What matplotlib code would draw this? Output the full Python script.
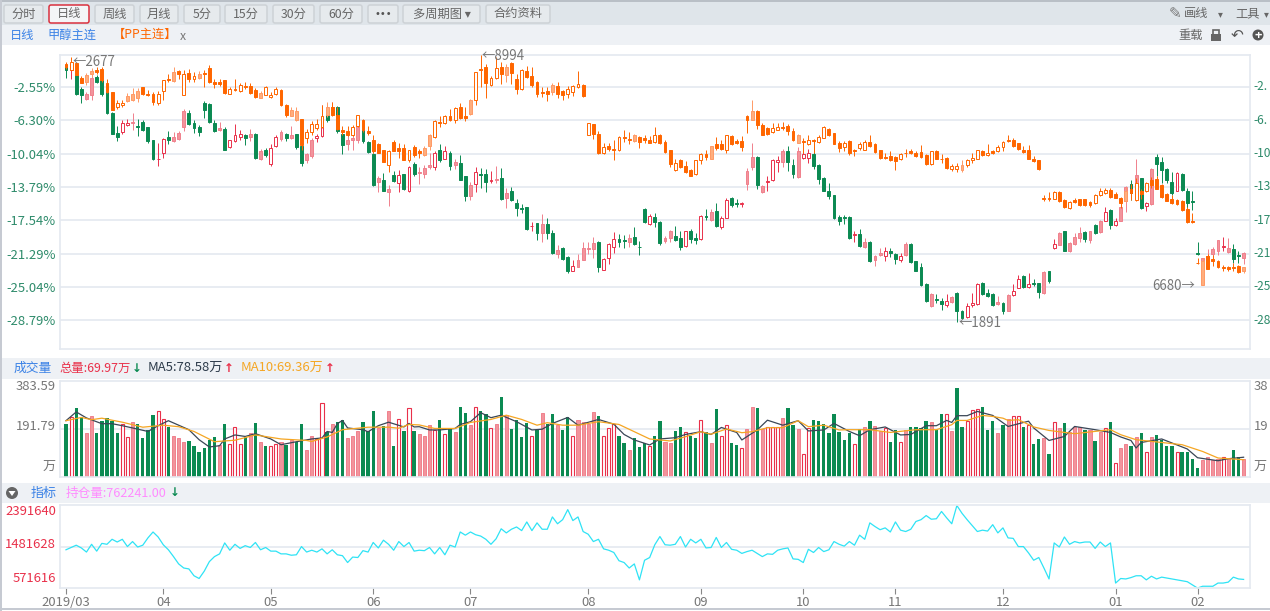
import numpy as np
import matplotlib
matplotlib.use("Agg")
import matplotlib.pyplot as plt
from matplotlib.patches import Rectangle, FancyBboxPatch, Circle, Polygon

plt.rcParams['font.family'] = ['Noto Sans CJK SC', 'DejaVu Sans']
plt.rcParams['axes.unicode_minus'] = False

W, H = 1270, 611

# x axis, trading day index of each month start
month_idx = [0, 19, 40, 60, 79, 102, 124, 144, 162, 183, 205, 221]
month_labels = ['2019/03', '04', '05', '06', '07', '08', '09', '10', '11', '12', '01', '02']

# percent ticks of the price panel
pct_ticks = [-2.55, -6.30, -10.04, -13.79, -17.54, -21.29, -25.04, -28.79]
pct_right = ['-2.', '-6.', '-10', '-13', '-17', '-21', '-25', '-28']

# g = down, r = up, p = up, pale
vol_kind = ("grggppgggg" "grrpggggrr" "gpppgggggg" "pgrrrgpgpg" "rrpgpggppr"
            "rgpggpppgg" "gpgpgrgrgp" "pprgrgpggp" "rggrpgpggg" "grgpggpggr"
            "ppppgrrrgg" "pgggrggppg" "grggrgpgrr" "ggrppgprrr" "pggprrgggg"
            "ggggrgpgpp" "rggrpggggp" "ggrpggrrrg" "ggpgprrgrg" "gpgrpgpppg"
            "pgprgrppgp" "grpggggrgg" "ggpppprpggp")

# volume, in 10k lots
volume = [213, 239, 277, 239, 176, 245, 176, 225, 235, 222,
          176, 213, 160, 221, 213, 156, 186, 249, 263, 231,
          200, 162, 154, 141, 142, 122, 98, 114, 146, 160,
          129, 213, 133, 200, 133, 160, 176, 217, 138, 125,
          125, 133, 138, 129, 146, 140, 213, 106, 162, 153,
          295, 178, 213, 218, 229, 154, 165, 184, 218, 182,
          263, 196, 205, 263, 125, 231, 184, 277, 182, 170,
          165, 207, 188, 227, 170, 194, 181, 278, 255, 207,
          278, 263, 250, 194, 210, 320, 247, 191, 227, 158,
          214, 165, 188, 254, 210, 250, 207, 188, 238, 165,
          227, 221, 210, 258, 242, 165, 194, 211, 165, 137,
          106, 157, 121, 134, 125, 165, 223, 141, 137, 185,
          198, 178, 165, 157, 227, 178, 137, 271, 165, 207,
          137, 128, 114, 190, 278, 275, 191, 198, 201, 201,
          234, 275, 207, 190, 90, 194, 227, 223, 210, 174,
          251, 181, 149, 174, 132, 190, 200, 225, 205, 182,
          196, 138, 189, 138, 189, 200, 200, 196, 225, 219,
          186, 253, 253, 184, 355, 200, 225, 269, 271, 281,
          189, 225, 176, 207, 231, 243, 243, 200, 207, 130,
          150, 154, 93, 219, 196, 217, 178, 200, 200, 188,
          188, 142, 178, 196, 219, 56, 116, 133, 125, 160,
          176, 101, 160, 168, 149, 125, 122, 101, 101, 101,
          73, 37, 69, 80, 69, 73, 80, 76, 106, 80, 70]

# moving averages at their turning points
ma5_x = [0, 2, 4, 7, 9, 11, 13, 16, 18, 20, 24, 26, 28, 30, 31, 33, 35, 37, 40, 42, 45, 48, 50, 51, 52, 53, 54, 55, 58, 59, 61, 63, 66, 67, 68,
         69, 71, 73, 76, 77, 79, 81, 83, 85, 88, 91, 93, 95, 98, 100, 104, 107, 109, 111, 114, 116, 119, 121, 124, 126, 128, 131, 132, 135, 137, 140, 143, 145, 148, 150,
         153, 155, 157, 160, 163, 165, 168, 170, 172, 173, 174, 176, 178, 181, 184, 188, 189, 192, 195, 197, 201, 204, 206, 208, 209, 210, 214, 216, 219, 221, 225, 227, 230]
ma5 = [225, 260, 236, 213, 213, 205, 196, 182, 205, 225, 189, 149, 120, 125, 152, 168, 162, 173, 152, 129, 141, 152, 156, 182, 178, 213, 226, 196, 189, 181, 205, 219, 200, 214, 200,
       201, 188, 188, 194, 210, 221, 257, 237, 247, 221, 188, 191, 214, 238, 207, 230, 211, 170, 148, 128, 152, 157, 170, 181, 170, 198, 178, 148, 188, 227, 207, 225, 184, 188, 214,
       182, 165, 189, 200, 168, 170, 205, 205, 226, 218, 245, 245, 262, 246, 202, 223, 196, 146, 162, 202, 189, 178, 160, 146, 116, 138, 152, 136, 112, 77, 65, 73, 79]
ma10_x = [0, 3, 5, 7, 11, 15, 19, 22, 25, 29, 33, 37, 42, 47, 48, 51, 54, 59, 63, 65, 67,
          69, 72, 76, 79, 83, 86, 89, 92, 94, 97, 100, 104, 108, 111, 114, 118, 121, 124, 126, 129, 132, 134, 137, 140, 143, 145, 148, 151,
          153, 157, 161, 166, 170, 173, 174, 176, 179, 181, 183, 184, 186, 189, 192, 197, 200, 204, 206, 209, 214, 218, 222, 225, 230]
ma10 = [225, 238, 229, 235, 219, 199, 207, 201, 182, 141, 147, 168, 152, 146, 142, 160, 189, 199, 199, 195, 210,
        208, 194, 194, 218, 230, 247, 230, 207, 217, 207, 207, 221, 210, 181, 152, 144, 161, 181, 171, 192, 177, 181, 197, 197, 225, 201, 207, 188,
        189, 189, 178, 189, 189, 209, 226, 226, 246, 242, 235, 226, 229, 200, 186, 173, 180, 189, 169, 149, 138, 129, 102, 76, 69]

# open interest, in 10k lots
open_interest = [141, 146, 151, 145, 136, 153, 138, 155, 153, 164, 158, 164, 148, 159, 147, 151, 167, 180, 169, 152,
                 141, 126, 110, 101, 99, 84, 78, 94, 115, 126, 132, 156, 140, 153, 144, 150, 146, 157, 141, 146,
                 138, 138, 132, 132, 129, 130, 148, 136, 140, 136, 143, 132, 141, 130, 128, 113, 125, 124, 139, 136,
                 157, 145, 162, 153, 140, 159, 148, 157, 138, 140,
                 139, 146, 132, 146, 130, 151, 147, 180, 173, 180, 174, 171, 164, 153, 165, 187, 178, 186, 191, 183,
                 202, 183, 200, 186, 186, 213, 198, 207, 229, 205, 213, 181, 175, 159, 164, 143, 140, 135, 117, 113,
                 101, 110, 75, 118, 124, 152, 170, 152, 151, 153, 170, 147, 164, 156, 164, 145, 146, 168, 146, 157,
                 142, 140, 133, 137, 140, 133, 126, 132, 131, 140, 143, 145, 121, 120, 113, 142, 135, 146, 137, 141,
                 159, 153, 149, 159, 151, 173,
                 164, 200, 192, 185, 189, 180, 202, 184, 181, 186, 203, 207, 216, 208, 209, 225, 211, 198, 238, 221,
                 207, 194, 181, 184, 182, 196, 178, 189, 167, 166, 148, 148, 134, 118, 124, 101, 77, 156, 147, 169,
                 153, 159, 156, 158, 158, 144, 158, 148, 156, 68, 78, 77, 80, 84, 84, 75, 83, 77, 81, 79,
                 77, 75, 73, 71, 64, 57, 61, 61, 61, 68, 68, 70, 81, 77, 76]

# body top, body bottom, high, low in percent
methanol = [
    (-0.1, -0.6, 0.1, -1.5), (0.1, -0.6, 0.5, -1.6), (-1.2, -3.3, -1.0, -3.5), (-2.8, -3.4, -2.6, -4.3), (-3.3, -3.9, -3.1, -4.0),
    (-1.5, -3.5, -1.1, -4.0), (-1.4, -2.0, -1.2, -2.1), (-1.8, -3.3, -1.7, -3.6), (-3.1, -5.5, -2.9, -5.6), (-5.5, -7.8, -5.4, -7.8),
    (-7.7, -8.2, -6.9, -8.6), (-6.6, -7.6, -6.3, -7.8), (-6.6, -6.8, -6.2, -6.9), (-6.5, -6.6, -5.5, -7.4), (-6.9, -7.0, -6.2, -8.1),
    (-6.5, -7.4, -6.3, -7.5), (-7.1, -8.6, -7.0, -8.9), (-8.5, -10.6, -8.5, -10.8), (-10.6, -10.7, -8.9, -11.4), (-8.4, -10.0, -8.3, -10.5),
    (-8.2, -8.5, -7.5, -9.0), (-8.2, -8.6, -7.6, -8.7), (-7.7, -8.4, -7.5, -8.5), (-5.3, -7.1, -5.0, -7.5), (-5.5, -6.7, -5.1, -6.8),
    (-6.6, -7.2, -6.3, -7.7), (-7.1, -7.6, -6.8, -8.1), (-4.3, -5.1, -4.1, -6.0), (-4.5, -6.5, -4.3, -6.6), (-6.6, -7.5, -6.3, -7.6),
    (-7.2, -7.4, -6.5, -7.5), (-7.3, -9.6, -7.1, -9.6), (-8.5, -9.3, -8.5, -9.4), (-7.9, -8.6, -6.7, -8.7), (-7.8, -8.2, -7.4, -8.5),
    (-7.9, -8.3, -7.8, -9.1), (-7.8, -8.2, -7.3, -8.6), (-7.8, -10.5, -7.7, -10.6), (-9.7, -10.7, -9.5, -10.8), (-9.6, -10.2, -9.4, -10.4),
    (-9.4, -11.2, -9.0, -11.4), (-8.2, -9.2, -8.0, -9.3), (-7.6, -8.4, -7.4, -8.6), (-7.8, -8.3, -7.7, -8.6), (-8.0, -8.3, -6.9, -8.4),
    (-7.8, -9.3, -7.8, -9.5), (-9.2, -11.1, -9.1, -11.4), (-10.1, -10.8, -10.0, -11.1), (-8.5, -10.3, -8.3, -10.5), (-8.1, -8.3, -7.8, -8.7),
    (-7.0, -8.1, -4.6, -8.2), (-5.6, -6.3, -4.5, -6.5), (-4.8, -5.5, -4.2, -5.7), (-4.8, -7.5, -4.7, -7.7), (-7.8, -9.1, -7.6, -10.1),
    (-8.5, -9.0, -8.0, -9.6), (-8.3, -8.5, -7.2, -9.6), (-6.9, -8.5, -6.1, -8.8), (-7.4, -8.6, -7.3, -8.8), (-8.7, -9.9, -8.6, -10.0),
    (-10.1, -13.6, -10.0, -13.7), (-12.8, -13.2, -12.6, -14.4), (-13.0, -14.2, -12.2, -14.3), (-14.0, -14.4, -13.6, -15.9), (-12.5, -13.1, -12.0, -13.2),
    (-12.5, -13.3, -11.9, -14.4), (-12.3, -14.0, -12.3, -14.1), (-11.6, -14.3, -11.4, -14.4), (-11.2, -12.3, -11.0, -12.6), (-12.1, -12.2, -11.5, -13.5),
    (-11.7, -12.3, -11.3, -12.8), (-11.3, -11.5, -10.0, -11.8), (-10.0, -11.6, -9.8, -11.9), (-9.6, -10.8, -9.0, -11.0), (-9.8, -10.6, -9.2, -10.7),
    (-10.0, -11.4, -9.8, -11.9), (-11.0, -11.3, -10.6, -11.8), (-11.1, -13.0, -10.2, -13.0), (-12.6, -14.8, -12.6, -15.4), (-13.6, -14.8, -13.2, -15.3),
    (-12.1, -13.5, -11.6, -14.4), (-12.3, -12.5, -11.7, -13.9), (-12.3, -13.2, -11.8, -14.4), (-13.0, -13.1, -12.0, -13.3), (-12.9, -13.0, -11.4, -13.3),
    (-12.8, -15.2, -11.7, -15.3), (-14.5, -15.0, -13.9, -16.2), (-14.2, -15.3, -13.8, -15.4), (-15.6, -16.2, -15.1, -17.1), (-16.2, -16.3, -15.7, -16.7),
    (-16.1, -18.5, -16.0, -18.6), (-18.2, -18.2, -17.7, -18.7), (-17.9, -19.0, -17.8, -19.8), (-18.0, -19.0, -16.8, -20.0), (-18.0, -19.0, -17.3, -19.6),
    (-19.0, -21.2, -18.6, -21.3), (-20.9, -21.3, -20.3, -21.8), (-20.7, -21.9, -20.6, -22.0), (-21.7, -23.3, -21.6, -23.5), (-22.7, -23.3, -22.0, -23.3),
    (-22.0, -22.8, -21.3, -22.8), (-20.7, -22.0, -20.0, -22.0), (-20.7, -20.8, -20.0, -21.3), (-20.1, -20.8, -19.4, -21.8), (-20.0, -22.8, -19.9, -23.4),
    (-21.9, -23.1, -21.8, -23.1), (-20.2, -21.8, -20.1, -22.5), (-19.7, -20.5, -18.9, -21.2), (-19.6, -20.0, -19.1, -20.5), (-19.8, -19.9, -19.2, -20.7),
    (-19.5, -20.0, -19.1, -20.5), (-19.4, -20.2, -18.3, -20.3), (-20.5, -20.6, -19.9, -21.5), (-16.3, -17.7, -16.2, -17.8), (-17.1, -18.0, -16.8, -18.1),
    (-17.2, -17.7, -16.7, -18.3), (-17.7, -20.1, -17.6, -20.3), (-19.5, -19.9, -19.3, -20.1), (-18.8, -19.5, -18.6, -20.0), (-19.3, -19.8, -18.2, -19.9),
    (-19.5, -20.6, -18.8, -20.9), (-18.8, -20.4, -18.7, -20.5), (-18.8, -19.6, -18.5, -20.1), (-19.5, -19.8, -19.0, -20.2), (-17.1, -19.7, -17.0, -19.8),
    (-17.1, -17.2, -16.3, -17.5), (-16.6, -17.5, -16.3, -17.6), (-16.5, -18.2, -15.6, -18.3), (-17.3, -18.3, -17.1, -18.5), (-15.3, -17.3, -15.0, -17.3),
    (-15.0, -15.8, -14.9, -16.0), (-15.6, -15.7, -15.1, -16.1), (-15.6, -15.7, -15.5, -16.1), (-12.0, -13.5, -11.7, -14.1), (-10.4, -11.5, -8.8, -11.9),
    (-10.4, -13.6, -10.3, -14.0), (-13.7, -14.4, -13.6, -14.5), (-13.1, -13.2, -12.6, -14.2), (-10.8, -13.0, -10.7, -13.1), (-10.8, -11.0, -10.3, -12.1),
    (-9.8, -11.0, -9.5, -11.6), (-9.8, -11.0, -9.2, -12.0), (-11.3, -12.3, -10.6, -12.8), (-9.8, -12.7, -9.3, -12.8), (-10.1, -10.5, -9.6, -10.6),
    (-10.0, -10.5, -9.5, -11.1), (-10.1, -11.4, -8.5, -11.8), (-11.3, -12.9, -11.2, -13.5), (-12.8, -14.2, -12.7, -14.2), (-14.3, -14.8, -13.3, -15.2),
    (-14.7, -17.3, -14.7, -17.4), (-17.2, -17.6, -17.0, -18.1), (-17.2, -17.3, -16.9, -18.0), (-17.2, -19.5, -17.1, -19.7), (-19.2, -19.2, -18.7, -20.0),
    (-19.1, -20.4, -18.5, -20.6), (-20.0, -20.6, -19.5, -20.7), (-20.0, -22.1, -19.9, -22.2), (-21.6, -22.0, -21.4, -22.7), (-21.2, -21.5, -20.7, -21.6),
    (-21.0, -21.6, -20.5, -22.1), (-21.0, -21.2, -20.7, -21.7), (-21.3, -21.9, -21.2, -22.5), (-21.6, -22.0, -21.2, -22.2), (-20.2, -21.5, -20.0, -21.6),
    (-20.2, -22.2, -20.1, -22.3), (-22.1, -23.2, -22.1, -23.3), (-22.8, -24.8, -22.4, -24.9), (-24.7, -26.6, -24.6, -26.7), (-25.8, -27.2, -25.7, -27.3),
    (-26.4, -26.5, -25.8, -26.8), (-26.6, -27.0, -26.3, -27.6), (-26.6, -27.1, -25.8, -27.3), (-26.2, -26.7, -26.1, -26.9), (-25.7, -27.8, -25.6, -29.0),
    (-27.7, -28.5, -27.6, -28.6), (-27.2, -28.4, -26.9, -28.5), (-26.8, -27.1, -25.7, -27.3), (-24.7, -27.0, -24.6, -27.1), (-24.6, -25.8, -24.5, -25.9),
    (-25.7, -26.1, -25.3, -26.2), (-25.8, -27.1, -25.7, -27.2), (-26.7, -27.0, -26.1, -27.1), (-26.8, -27.8, -26.7, -28.1), (-25.9, -27.7, -25.8, -27.8),
    (-25.5, -25.9, -24.7, -26.1), (-24.2, -25.2, -23.7, -25.2), (-23.8, -25.1, -23.7, -25.2), (-24.7, -25.1, -23.5, -25.2), (-24.6, -24.7, -24.1, -24.9),
    (-24.6, -25.6, -24.6, -26.3), (-23.4, -25.7, -23.3, -25.8), (-23.3, -24.4, -23.2, -24.6), (-20.2, -20.7, -19.6, -20.8), (-19.0, -20.3, -18.9, -20.3),
    (-18.8, -21.0, -18.7, -21.0), (-20.1, -21.0, -20.0, -21.1), (-19.4, -20.2, -19.0, -20.3), (-19.0, -19.5, -18.3, -20.0), (-18.9, -19.6, -18.8, -20.0),
    (-18.8, -19.8, -18.7, -20.1), (-18.1, -19.0, -18.0, -19.1), (-17.6, -18.9, -17.5, -19.0), (-16.6, -17.6, -16.1, -17.6), (-16.4, -18.1, -16.3, -18.5),
    (-17.6, -18.1, -17.3, -18.2), (-16.1, -17.6, -15.6, -17.6), (-13.8, -15.4, -13.7, -16.6), (-13.5, -14.5, -13.0, -15.3), (-12.4, -14.3, -10.7, -14.4),
    (-12.8, -16.2, -12.8, -16.3), (-15.6, -15.9, -15.5, -16.5), (-11.8, -15.7, -11.7, -15.8), (-10.4, -11.2, -10.1, -12.6), (-11.0, -11.9, -10.4, -13.4),
    (-11.8, -13.0, -11.7, -13.4), (-13.2, -14.5, -12.1, -14.7), (-12.2, -14.3, -12.1, -14.3), (-12.3, -14.1, -12.2, -14.2), (-14.3, -15.6, -13.9, -16.8),
    (-15.4, -15.5, -14.3, -16.4), (-21.2, -21.3, -20.0, -21.4), (-21.8, -22.2, -21.8, -22.3), (-21.6, -22.9, -20.8, -23.0), (-20.8, -21.3, -20.6, -21.8),
    (-19.8, -21.0, -19.8, -21.4), (-20.4, -20.5, -19.4, -21.0), (-20.7, -21.1, -19.5, -21.2), (-20.8, -21.9, -20.2, -22.4), (-21.5, -21.6, -21.0, -22.3),
    (-21.2, -21.8, -21.1, -22.5)]

pp = [
    (0.0, -0.3, 0.3, -0.5), (0.3, -0.6, 0.8, -0.6), (0.1, -1.2, 0.2, -1.2), (-1.5, -2.1, -1.3, -2.1), (-1.2, -2.0, -1.0, -2.3),
    (-0.7, -1.1, -0.4, -1.4), (-0.6, -0.9, -0.3, -1.1), (-0.5, -1.8, -0.3, -2.0), (-2.1, -3.1, -1.7, -3.2), (-3.1, -5.1, -3.1, -5.1),
    (-4.4, -4.8, -4.0, -5.0), (-4.3, -4.6, -4.0, -4.8), (-3.6, -4.1, -3.2, -4.2), (-3.3, -4.0, -2.7, -4.1), (-3.0, -3.8, -2.7, -4.2),
    (-2.6, -3.3, -2.5, -3.5), (-3.3, -3.4, -2.9, -3.6), (-3.3, -4.2, -3.1, -4.6), (-3.3, -4.3, -3.0, -4.6), (-1.8, -3.0, -1.8, -4.0),
    (-1.7, -1.8, -1.1, -2.0), (-0.9, -1.9, -0.3, -2.0), (-0.8, -1.1, -0.6, -1.6), (-1.1, -3.4, -0.6, -3.5), (-1.0, -1.7, -0.5, -2.0),
    (-1.3, -1.7, -0.9, -2.0), (-1.1, -1.5, -0.8, -1.7), (-1.0, -1.1, -0.6, -2.5), (-0.4, -2.0, -0.1, -2.1), (-2.0, -2.2, -1.6, -2.7),
    (-2.0, -2.2, -1.7, -2.4), (-1.8, -3.2, -1.8, -3.3), (-2.8, -3.3, -2.6, -3.3), (-2.8, -2.9, -1.6, -3.0), (-2.3, -3.0, -2.1, -3.1),
    (-2.4, -2.6, -2.0, -2.8), (-2.4, -3.2, -2.1, -3.3), (-2.9, -3.7, -2.7, -3.8), (-3.2, -3.8, -3.0, -3.8), (-2.5, -3.5, -2.4, -3.5),
    (-3.4, -3.7, -3.1, -3.8), (-2.8, -3.3, -2.5, -3.5), (-2.9, -4.6, -2.8, -4.7), (-4.6, -5.7, -4.5, -5.9), (-5.1, -5.8, -4.8, -5.8),
    (-5.2, -6.3, -4.8, -6.4), (-6.2, -9.1, -6.1, -9.6), (-7.6, -8.3, -7.3, -8.9), (-6.7, -7.6, -6.4, -8.0), (-6.7, -7.2, -6.2, -7.4),
    (-5.8, -7.1, -4.6, -7.2), (-4.8, -5.7, -4.2, -5.9), (-4.8, -5.7, -4.2, -5.8), (-5.7, -7.3, -4.8, -7.4), (-7.4, -7.6, -6.9, -8.0),
    (-7.5, -8.0, -6.9, -8.1), (-7.0, -8.0, -6.8, -8.1), (-5.7, -6.9, -5.7, -7.0), (-6.3, -7.4, -6.1, -7.6), (-7.5, -7.7, -6.9, -8.0),
    (-8.5, -9.8, -8.0, -10.0), (-9.0, -10.0, -8.8, -10.0), (-9.6, -11.0, -9.6, -11.0), (-9.8, -11.3, -9.6, -12.1), (-8.7, -9.7, -8.5, -9.8),
    (-9.4, -9.7, -8.9, -10.5), (-9.4, -10.8, -9.0, -10.8), (-9.6, -10.8, -9.6, -11.0), (-9.3, -10.2, -9.1, -10.4), (-9.8, -10.0, -9.5, -10.5),
    (-9.4, -10.2, -9.2, -10.3), (-8.0, -9.2, -7.8, -9.6), (-6.4, -8.2, -6.3, -8.3), (-6.5, -6.6, -5.8, -7.1), (-5.8, -6.6, -5.7, -6.7),
    (-5.8, -6.3, -5.0, -6.4), (-4.9, -6.3, -4.8, -6.6), (-4.8, -6.0, -4.3, -6.1), (-5.8, -6.0, -4.8, -6.4), (-4.0, -5.6, -3.9, -5.7),
    (-0.9, -4.0, -0.9, -4.6), (-0.5, -0.6, 1.0, -2.6), (-0.3, -2.1, 0.0, -3.8), (-1.5, -2.3, -1.3, -2.4), (-0.4, -1.5, 0.8, -1.7),
    (-0.3, -1.1, 0.3, -2.2), (-0.3, -1.2, 0.0, -2.0), (0.2, -1.0, 0.3, -2.2), (-1.6, -2.8, -1.1, -3.3), (-0.6, -2.8, -0.5, -2.9),
    (-0.7, -1.4, -0.2, -1.5), (-1.3, -2.3, -0.3, -2.5), (-2.0, -3.3, -1.9, -3.7), (-3.1, -3.2, -2.6, -3.7), (-3.0, -3.3, -2.6, -4.1),
    (-2.3, -3.1, -2.1, -3.5), (-2.4, -3.3, -2.0, -3.8), (-3.0, -3.5, -2.9, -4.0), (-2.8, -3.3, -2.4, -3.8), (-2.4, -3.1, -2.3, -3.6),
    (-2.2, -2.6, -0.7, -2.7), (-2.3, -3.6, -2.2, -3.7), (-6.6, -7.9, -6.6, -8.0), (-6.7, -7.8, -6.7, -8.4), (-7.8, -10.0, -7.5, -10.1),
    (-9.3, -10.0, -8.8, -10.1), (-9.2, -9.5, -8.8, -9.7), (-9.5, -9.6, -8.5, -10.8), (-8.2, -9.6, -8.1, -9.7), (-8.2, -8.3, -7.4, -8.7),
    (-8.4, -8.5, -7.6, -9.0), (-8.0, -8.6, -7.8, -8.7), (-8.2, -8.7, -8.1, -9.4), (-8.3, -8.5, -8.0, -8.9), (-8.5, -8.8, -8.1, -8.9),
    (-8.0, -8.7, -7.1, -8.8), (-7.9, -8.9, -7.8, -9.0), (-8.7, -9.9, -8.5, -10.0), (-9.6, -11.2, -9.6, -11.6), (-11.1, -11.9, -10.7, -12.0),
    (-10.8, -11.6, -10.6, -11.7), (-11.4, -12.1, -10.9, -12.2), (-11.9, -12.6, -11.8, -12.6), (-10.8, -12.3, -10.8, -12.4), (-10.1, -10.8, -10.0, -11.2),
    (-10.1, -10.4, -9.6, -10.8), (-9.2, -10.6, -9.2, -10.7), (-9.0, -9.4, -8.2, -9.6), (-9.0, -9.5, -8.5, -9.6), (-8.0, -9.6, -8.0, -10.0),
    (-8.1, -9.0, -8.0, -9.1), (-8.6, -8.8, -8.4, -9.0), (-8.6, -9.3, -8.1, -9.8), (-5.8, -6.3, -5.7, -7.7), (-5.2, -6.3, -4.0, -6.3),
    (-5.2, -6.8, -5.1, -7.3), (-6.8, -8.0, -6.6, -8.0), (-7.2, -7.8, -7.0, -8.0), (-7.2, -7.6, -6.6, -7.7), (-7.0, -7.4, -6.6, -7.4),
    (-7.0, -7.2, -6.5, -7.4), (-6.9, -7.5, -6.7, -8.0), (-7.5, -8.5, -7.2, -8.6), (-8.0, -8.8, -7.8, -8.9), (-8.6, -8.7, -8.3, -10.0),
    (-8.5, -9.0, -7.9, -9.1), (-8.5, -8.6, -8.4, -10.0), (-8.2, -8.7, -8.0, -8.8), (-7.1, -8.3, -6.9, -8.3), (-7.3, -8.0, -7.2, -8.1),
    (-7.7, -9.0, -7.7, -9.0), (-8.8, -9.4, -8.6, -9.9), (-8.8, -9.3, -8.6, -9.7), (-8.6, -10.0, -8.5, -10.2), (-9.6, -9.8, -9.5, -10.3),
    (-9.0, -9.4, -8.7, -9.6), (-8.7, -9.6, -8.5, -9.6), (-8.7, -9.2, -8.0, -9.3), (-9.0, -9.9, -8.9, -10.0), (-9.6, -10.5, -9.6, -10.6),
    (-10.4, -10.5, -10.0, -10.7), (-10.3, -10.8, -9.7, -10.9), (-10.4, -10.9, -10.3, -11.9), (-10.1, -10.7, -10.0, -10.8), (-10.0, -10.0, -9.5, -10.4),
    (-9.8, -10.0, -9.5, -10.1), (-10.0, -10.3, -9.7, -10.4), (-9.9, -10.4, -9.1, -10.5), (-10.2, -11.2, -10.1, -11.3), (-9.8, -11.2, -9.8, -11.3),
    (-9.7, -10.6, -9.6, -10.7), (-10.6, -10.7, -10.1, -11.1), (-10.5, -11.7, -10.4, -11.8), (-11.4, -11.8, -11.2, -12.0), (-11.4, -11.8, -11.1, -12.1),
    (-11.3, -11.9, -10.8, -12.1), (-10.8, -11.3, -10.7, -11.5), (-10.5, -10.8, -10.0, -11.1), (-9.6, -10.6, -9.6, -10.7), (-9.7, -10.2, -9.6, -10.3),
    (-10.0, -10.2, -9.0, -10.3), (-9.8, -10.0, -9.6, -10.1), (-9.3, -9.8, -9.1, -9.9), (-8.7, -9.3, -8.6, -9.7), (-8.5, -8.6, -7.9, -8.7),
    (-8.5, -9.2, -8.3, -9.3), (-8.9, -9.5, -8.8, -9.6), (-9.6, -9.9, -9.2, -10.0), (-9.6, -10.6, -9.1, -10.7), (-10.6, -10.9, -10.3, -11.0),
    (-10.8, -11.8, -10.8, -11.9), (-15.0, -15.2, -14.7, -15.4), (-15.0, -15.1, -14.4, -15.4), (-14.4, -15.1, -14.3, -15.2), (-14.4, -15.4, -14.3, -15.5),
    (-15.3, -16.1, -15.2, -16.2), (-15.5, -16.2, -15.4, -16.3), (-15.3, -15.5, -15.0, -15.6), (-15.2, -15.8, -15.1, -15.9), (-15.2, -15.8, -15.1, -15.9),
    (-15.5, -15.8, -15.4, -16.1), (-14.7, -15.6, -14.6, -15.7), (-14.3, -14.7, -13.9, -14.8), (-14.1, -14.5, -13.9, -14.6), (-14.1, -14.9, -13.9, -15.0),
    (-14.6, -15.0, -14.4, -15.0), (-15.0, -15.6, -14.9, -16.2), (-14.3, -15.4, -13.8, -15.5), (-14.0, -14.5, -13.5, -15.3), (-13.4, -15.3, -12.8, -15.4),
    (-14.3, -14.6, -14.0, -15.1), (-13.4, -14.3, -13.2, -14.4), (-13.0, -13.6, -12.7, -13.9), (-12.9, -14.0, -12.6, -14.0), (-13.6, -14.9, -13.5, -15.0),
    (-14.6, -15.4, -14.5, -15.4), (-15.1, -15.6, -14.7, -15.7), (-15.3, -15.7, -15.1, -15.8), (-15.4, -16.4, -15.3, -16.5), (-16.3, -17.7, -16.1, -17.8),
    (-17.7, -17.7, -16.7, -17.8), (-22.3, -22.4, -21.8, -22.5), (-22.1, -24.8, -21.8, -24.8), (-21.6, -23.0, -21.3, -23.0), (-21.9, -22.1, -21.5, -22.7),
    (-22.1, -22.8, -22.0, -22.9), (-22.8, -22.9, -22.6, -23.2), (-22.8, -23.0, -22.7, -23.3), (-22.8, -22.9, -22.4, -23.3), (-22.7, -23.4, -22.6, -23.5),
    (-22.8, -23.3, -22.8, -23.5)]

# up days of the PP candles, drawn hollow, and the ones with a pale body
pp_up = {1, 4, 5, 10, 11, 12, 13, 14, 18, 19, 21, 23, 25, 26, 32, 34, 38, 39, 40, 41, 44, 45, 47, 48, 49, 50, 51, 56, 57,
         63, 67, 70, 71, 72, 74, 76, 79, 80, 83, 84, 86, 89, 95, 98, 99, 100, 102, 105, 108, 111, 115, 119, 123, 124, 126,
         129, 134, 138, 139, 143, 145, 147, 148, 152, 155, 156, 163, 169, 173, 174, 175, 176, 177, 178, 180, 182, 183,
         193, 196, 201, 202, 203, 207, 209, 211, 222, 230}
pp_pale = {4, 5, 12, 13, 14, 21, 26, 38, 44, 45, 51, 70, 71, 79, 86, 95, 111, 126, 134, 143, 175, 207, 222, 230}

assert len(vol_kind) == len(volume) == len(open_interest) == len(methanol) == len(pp) == 231
assert len(ma5_x) == len(ma5) and len(ma10_x) == len(ma10)

GREEN = '#0b8a52'
RED = '#e9304a'
PINK = '#f2949c'
PINK_WICK = '#f0808c'
ORANGE = '#ff6600'
PALE_ORANGE = '#ffae7d'
GRID = '#e4e9f0'
GRAY = '#777777'
BLUE = '#3b82e6'
XLIM = (-1.17, 231.25)
BAR_W = 0.56
ARROW_FONT = ['DejaVu Sans']


def pix_axes(left, top, right, bottom):
    ax = fig.add_axes([left / W, 1 - bottom / H, (right - left) / W, (bottom - top) / H])
    ax.set_xlim(*XLIM)
    for s in ax.spines.values():
        s.set_color(GRID)
        s.set_linewidth(1.2)
    ax.tick_params(length=0, labelbottom=False, labelleft=False)
    ax.set_xticks([])
    ax.set_yticks([])
    return ax


def candle(ax, i, top, bot, hi, lo, color, face, wick, z):
    ax.vlines(i, lo, hi, color=wick, lw=0.7, zorder=z)
    ax.bar(i, max(top - bot, 0.06), BAR_W, bottom=bot, facecolor=face, edgecolor=color, lw=0.7, zorder=z + 0.1)


fig = plt.figure(figsize=(W / 100, H / 100), dpi=100)

# pixel layer for the toolbar and the header strips
bg = fig.add_axes([0, 0, 1, 1], zorder=-1)
bg.set_xlim(0, W)
bg.set_ylim(H, 0)
bg.axis('off')
bg.add_patch(Rectangle((0, 0), W, 2, color='#b9bfc6', lw=0))
bg.add_patch(Rectangle((0, 2), W, 23, color='#dfe5ea', lw=0))
bg.add_patch(Rectangle((0, 25), W, 20, color='#eef1f5', lw=0))
bg.add_patch(Rectangle((0, 358), W, 21, color='#eef1f5', lw=0))
bg.add_patch(Rectangle((0, 483), W, 20, color='#eef1f5', lw=0))
bg.add_patch(Rectangle((0, 608), W, 2, color='#c6cad2', lw=0))
bg.add_patch(Rectangle((0, 0), 1.5, H, color='#c6cad2', lw=0))

buttons = [(4, 43, '分时'), (49, 89, '日线'), (95, 134, '周线'), (140, 178, '月线'), (184, 220, '5分'), (225, 267, '15分'),
           (273, 314, '30分'), (320, 362, '60分'), (368, 398, ''), (403, 480, '多周期图 ▾'), (486, 550, '合约资料')]
for x0, x1, label in buttons:
    active = label == '日线'
    bg.add_patch(FancyBboxPatch((x0 + 1, 6), x1 - x0 - 2, 16, boxstyle='round,pad=1,rounding_size=2',
                                facecolor='#f4f5f7' if active else '#e6eaed',
                                edgecolor='#d9303e' if active else '#cdd2d6', lw=1.1))
    bg.text((x0 + x1) / 2, 14, label, ha='center', va='center', fontsize=8.8, color='#666666')
bg.text(383, 14, '•••', ha='center', va='center', fontsize=7, color='#555555', family=ARROW_FONT)

bg.text(1169, 14, '✎', ha='left', va='center', fontsize=11, color='#777777')
bg.text(1184, 14, '画线', ha='left', va='center', fontsize=8.8, color='#666666')
bg.text(1220, 14, '▾', ha='center', va='center', fontsize=7, color='#666666')
bg.text(1235, 14, '工具', ha='left', va='center', fontsize=8.8, color='#666666')
bg.text(1266, 14, '▾', ha='center', va='center', fontsize=7, color='#666666')

bg.text(10, 35, '日线', ha='left', va='center', fontsize=8.8, color=BLUE)
bg.text(47, 35, '甲醇主连', ha='left', va='center', fontsize=8.8, color=BLUE)
bg.text(113, 34, '【PP主连】', ha='left', va='center', fontsize=8.8, color=ORANGE)
bg.text(180, 36, 'x', ha='left', va='center', fontsize=8.8, color='#777777')
bg.text(1178, 35, '重载', ha='left', va='center', fontsize=8.8, color='#666666')
# lock, undo and zoom icons
bg.add_patch(Rectangle((1211, 34), 10, 7, color='#666666', lw=0))
bg.add_patch(Rectangle((1213, 30), 6, 6, fill=False, edgecolor='#666666', lw=1.2))
bg.text(1237, 35, '↶', ha='center', va='center', fontsize=11, color='#555555')
bg.add_patch(Circle((1258, 35), 5.5, color='#555555', lw=0))
bg.text(1258, 35, '+', ha='center', va='center', fontsize=9, color='white', fontweight='bold')

# right end labels, cut off by the window in the original
for tick, label in zip(pct_ticks, pct_right):
    y = 50 + (1.61 - tick) / 0.1125
    bg.text(1253, y, label, ha='left', va='center', fontsize=8.6, color='#2e8b6b')
bg.add_patch(Polygon([(1243, 207), (1250, 203.5), (1250, 210.5)], color='#2b7de9', lw=0))
bg.add_patch(Rectangle((1246, 186.5), 4, 1.2, color='#e9606e', lw=0))

# price panel
ax1 = pix_axes(60, 55, 1250, 349)
ax1.set_ylim(-32.03, 1.05)
ax1.set_yticks(pct_ticks)
ax1.set_yticklabels([f'{t:.2f}%' for t in pct_ticks], fontsize=9.4, color='#2e8b6b')
ax1.tick_params(axis='y', labelleft=True, pad=3)
for t in pct_ticks:
    ax1.axhline(t, color=GRID, lw=1.2, zorder=1)

for i, (top, bot, hi, lo) in enumerate(methanol):
    kind = vol_kind[i]
    if kind == 'g':
        candle(ax1, i, top, bot, hi, lo, GREEN, GREEN, GREEN, 2)
    elif kind == 'p':
        candle(ax1, i, top, bot, hi, lo, PINK_WICK, PINK, PINK_WICK, 2)
    else:
        candle(ax1, i, top, bot, hi, lo, RED, 'white', RED, 2)

for i, (top, bot, hi, lo) in enumerate(pp):
    if i in pp_pale:
        candle(ax1, i, top, bot, hi, lo, '#ff9a66', PALE_ORANGE, '#ff9a66', 3)
    elif i in pp_up:
        candle(ax1, i, top, bot, hi, lo, ORANGE, 'white', ORANGE, 3)
    else:
        candle(ax1, i, top, bot, hi, lo, ORANGE, ORANGE, ORANGE, 3)

ax1.text(1.2, methanol[1][2] - 0.2, '←2677', ha='left', va='center', fontsize=9.6, color=GRAY, zorder=5)
ax1.text(81.2, pp[81][2] - 0.1, '←8994', ha='left', va='center', fontsize=9.6, color=GRAY, zorder=5)
ax1.text(174.3, methanol[174][3] - 0.1, '←1891', ha='left', va='center', fontsize=9.6, color=GRAY, zorder=5)
ax1.text(220.6, pp[222][3] - 0.1, '6680→', ha='right', va='center', fontsize=9.6, color=GRAY, zorder=5)

# volume panel
bg.text(14, 368, '成交量', ha='left', va='center', fontsize=9.2, color=BLUE)
bg.text(59, 368, '总量:69.97万', ha='left', va='center', fontsize=8.9, color=RED)
bg.text(136.5, 368, '↓', ha='center', va='center', fontsize=8.6, color=GREEN, fontweight='bold', family=ARROW_FONT)
bg.text(148, 368, 'MA5:78.58万', ha='left', va='center', fontsize=9.4, color='#2c3a4a')
bg.text(229, 368, '↑', ha='center', va='center', fontsize=8.6, color=RED, fontweight='bold', family=ARROW_FONT)
bg.text(241, 368, 'MA10:69.36万', ha='left', va='center', fontsize=9.4, color='#f5a623')
bg.text(330, 368, '↑', ha='center', va='center', fontsize=8.6, color=RED, fontweight='bold', family=ARROW_FONT)
for y, label in [(387, '383.59'), (427, '191.79'), (467, '万')]:
    bg.text(56, y, label, ha='right', va='center', fontsize=9.4, color=GRAY)
for y, label in [(387, '38'), (427, '19'), (467, '万')]:
    bg.text(1254, y, label, ha='left', va='center', fontsize=9.4, color=GRAY)

ax2 = pix_axes(60, 381, 1250, 477)
ax2.set_ylim(0, 383.59)
ax2.axhline(191.79, color=GRID, lw=1.2, zorder=1)
for i, v in enumerate(volume):
    kind = vol_kind[i]
    if kind == 'g':
        ax2.bar(i, v, 0.66, color=GREEN, lw=0, zorder=2)
    elif kind == 'p':
        ax2.bar(i, v, 0.6, facecolor=PINK, edgecolor=PINK_WICK, lw=0.7, zorder=2)
    else:
        ax2.bar(i, v, 0.6, facecolor='white', edgecolor=RED, lw=0.8, zorder=2)
ax2.plot(ma5_x, ma5, color='#3a4656', lw=0.9, zorder=3)
ax2.plot(ma10_x, ma10, color='#f5a623', lw=0.9, zorder=4)

# open interest panel
bg.add_patch(Circle((12, 493), 6, color='#666666', lw=0))
bg.add_patch(Polygon([(8.5, 491), (15.5, 491), (12, 496)], color='white', lw=0))
bg.text(31, 493, '指标', ha='left', va='center', fontsize=9.4, color=BLUE)
bg.text(66, 493, '持仓量:762241.00', ha='left', va='center', fontsize=9.1, color='#ff8cff')
bg.text(175, 493, '↓', ha='center', va='center', fontsize=8.6, color=GREEN, fontweight='bold', family=ARROW_FONT)
for y, label in [(511.5, '2391640'), (545, '1481628'), (578, '571616')]:
    bg.text(56, y, label, ha='right', va='center', fontsize=9.4, color=RED)

ax3 = pix_axes(60, 505, 1250, 588)
ax3.set_ylim(57.1616, 239.164)
ax3.axhline(148.1628, color=GRID, lw=1.2, zorder=1)
ax3.plot(range(231), open_interest, color='#2fe3f5', lw=0.9, zorder=2, clip_on=False)
ax3.set_xticks(month_idx)
ax3.set_xticklabels(month_labels, fontsize=9.4, color=GRAY)
ax3.tick_params(axis='x', labelbottom=True, length=4, width=0.8, color='#888888', pad=2)

fig.savefig('out.png', dpi=100, facecolor='white')
